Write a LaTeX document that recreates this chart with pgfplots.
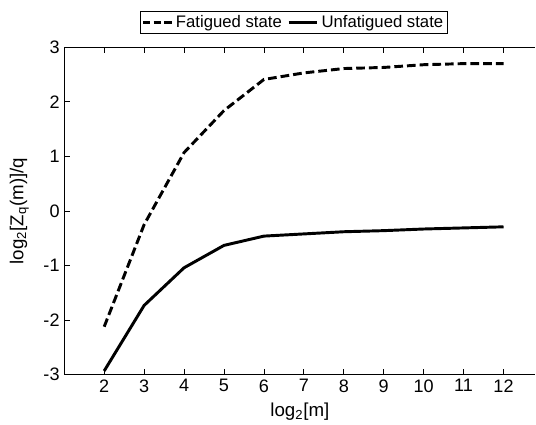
\documentclass[border=0pt]{standalone}
\usepackage{pgfplots}
\pgfplotsset{compat=1.18}
\usepackage{fontspec}
\setmainfont{Liberation Sans}
\pgfplotsset{
  fatleg/.style={legend image code/.code={\draw[black, line width=2.2pt, dash pattern=on 5.5pt off 2.5pt] (0pt,0pt) -- (21.5pt,0pt);}},
}
\begin{document}
\begin{tikzpicture}
\begin{axis}[
  scale only axis,
  width=352.5pt, height=245pt,
  xmin=1, xmax=12.8, ymin=-3, ymax=3,
  axis x line=box, axis y line=left,
  axis line style={-, line width=0.8pt},
  xtick={2,3,...,12}, ytick={-3,-2,...,3},
  tick align=inside,
  major tick length=4pt,
  tick style={black, line width=0.6pt},
  /pgf/number format/assume math mode=true,
  tick label style={font=\fontsize{13.5}{15}\selectfont},
  label style={font=\fontsize{14}{16}\selectfont},
  xlabel={log\textsubscript{2}[m]},
  ylabel={log\textsubscript{2}[Z\textsubscript{q}(m)]/q},
  xlabel style={yshift=-1pt},
  ylabel style={yshift=4pt},
  legend columns=2,
  legend style={at={(0.487,1.04)}, anchor=south, draw=black, line width=0.6pt,
    font=\fontsize{12.5}{14}\selectfont, inner sep=1.2pt,
    /tikz/every even column/.append style={column sep=2pt}},
  legend image code/.code={\draw[#1] (0pt,0pt) -- (21.5pt,0pt);},
]
\addplot[black, line width=2.2pt, dash pattern=on 6.5pt off 3pt, fatleg] coordinates {
(2,-2.12) (3,-0.25) (4,1.07) (5,1.84) (6,2.41) (7,2.53) (8,2.61) (9,2.63) (10,2.68) (11,2.70) (12,2.70)};
\addlegendentry{Fatigued state}
\addplot[black, line width=2.2pt] coordinates {
(2,-2.93) (3,-1.73) (4,-1.04) (5,-0.63) (6,-0.46) (7,-0.42) (8,-0.38) (9,-0.36) (10,-0.33) (11,-0.31) (12,-0.29)};
\addlegendentry{Unfatigued state}
\end{axis}
\path ([yshift=8pt]current bounding box.north);
\path ([xshift=-4pt]current bounding box.west);
\end{tikzpicture}
\end{document}
